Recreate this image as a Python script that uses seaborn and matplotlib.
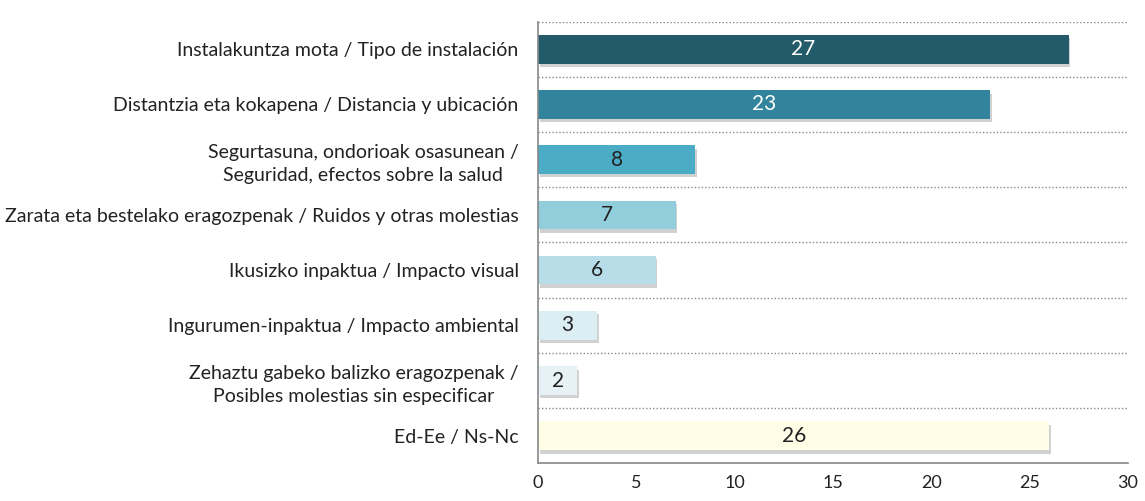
import numpy as np
import pandas as pd
import matplotlib.pyplot as plt
import matplotlib.patheffects as pe
from matplotlib.ticker import FixedLocator
import seaborn as sns

# ============================================================
# Data
# ============================================================
categories = [
    "Instalakuntza mota / Tipo de instalación",
    "Distantzia eta kokapena / Distancia y ubicación",
    "Segurtasuna, ondorioak osasunean /\nSeguridad, efectos sobre la salud",
    "Zarata eta bestelako eragozpenak / Ruidos y otras molestias",
    "Ikusizko inpaktua / Impacto visual",
    "Ingurumen-inpaktua / Impacto ambiental",
    "Zehaztu gabeko balizko eragozpenak /\nPosibles molestias sin especificar",
    "Ed-Ee / Ns-Nc",
]
values = [27, 23, 8, 7, 6, 3, 2, 26]
bar_colors = ["#235B6A", "#31849B", "#4BACC6", "#92CDDC",
              "#B7DEE8", "#DAEEF3", "#E6F2F6", "#FFFDE6"]
label_colors = ["white", "white", "#222222", "#222222",
                "#222222", "#222222", "#222222", "#222222"]

df = pd.DataFrame({"cat": categories, "val": values})

# ============================================================
# Plot
# ============================================================
sns.set_style("white")
plt.rcParams['font.family'] = ['Lato', 'DejaVu Sans']

fig, ax = plt.subplots(figsize=(11.45, 5.01), dpi=100)
fig.subplots_adjust(left=0.47, right=0.985, top=0.957, bottom=0.075)

sns.barplot(data=df, y="cat", x="val", hue="cat", palette=bar_colors,
            saturation=1, legend=False, width=0.52, ax=ax, orient="h")

shadow = [pe.SimplePatchShadow(offset=(1, -2.5), shadow_rgbFace="#999999", alpha=0.45),
          pe.Normal()]
for i, p in enumerate(ax.patches):
    p.set_path_effects(shadow)
    p.set_edgecolor("none")
    ax.text(values[i] / 2, i, str(values[i]), ha="center", va="center",
            fontsize=15, color=label_colors[i])

ax.set_xlim(0, 30)
ax.set_ylim(len(categories) - 0.5, -0.5)
ax.set_xticks(range(0, 31, 5))
ax.set_xlabel("")
ax.set_ylabel("")

# category boundaries as minor ticks with dotted gridlines
ax.yaxis.set_minor_locator(FixedLocator(np.arange(-0.5, len(categories), 1.0)))
ax.tick_params(axis="y", which="major", length=0, pad=14, labelsize=14, labelcolor="#222222")
ax.tick_params(axis="y", which="minor", length=5, color="#888888", direction="out")
ax.tick_params(axis="x", which="major", length=5, color="#888888", direction="out",
               labelsize=13, labelcolor="#222222")
for lab in ax.get_yticklabels():
    lab.set_multialignment("center")
    lab.set_linespacing(1.4)

ax.grid(False)
ax.grid(True, axis="y", which="minor", linestyle=(0, (1, 1.5)), color="#888888", linewidth=1)

for s in ["top", "right"]:
    ax.spines[s].set_visible(False)
for s in ["left", "bottom"]:
    ax.spines[s].set_color("#888888")
    ax.spines[s].set_linewidth(1.2)

plt.savefig("out.png", dpi=100)
